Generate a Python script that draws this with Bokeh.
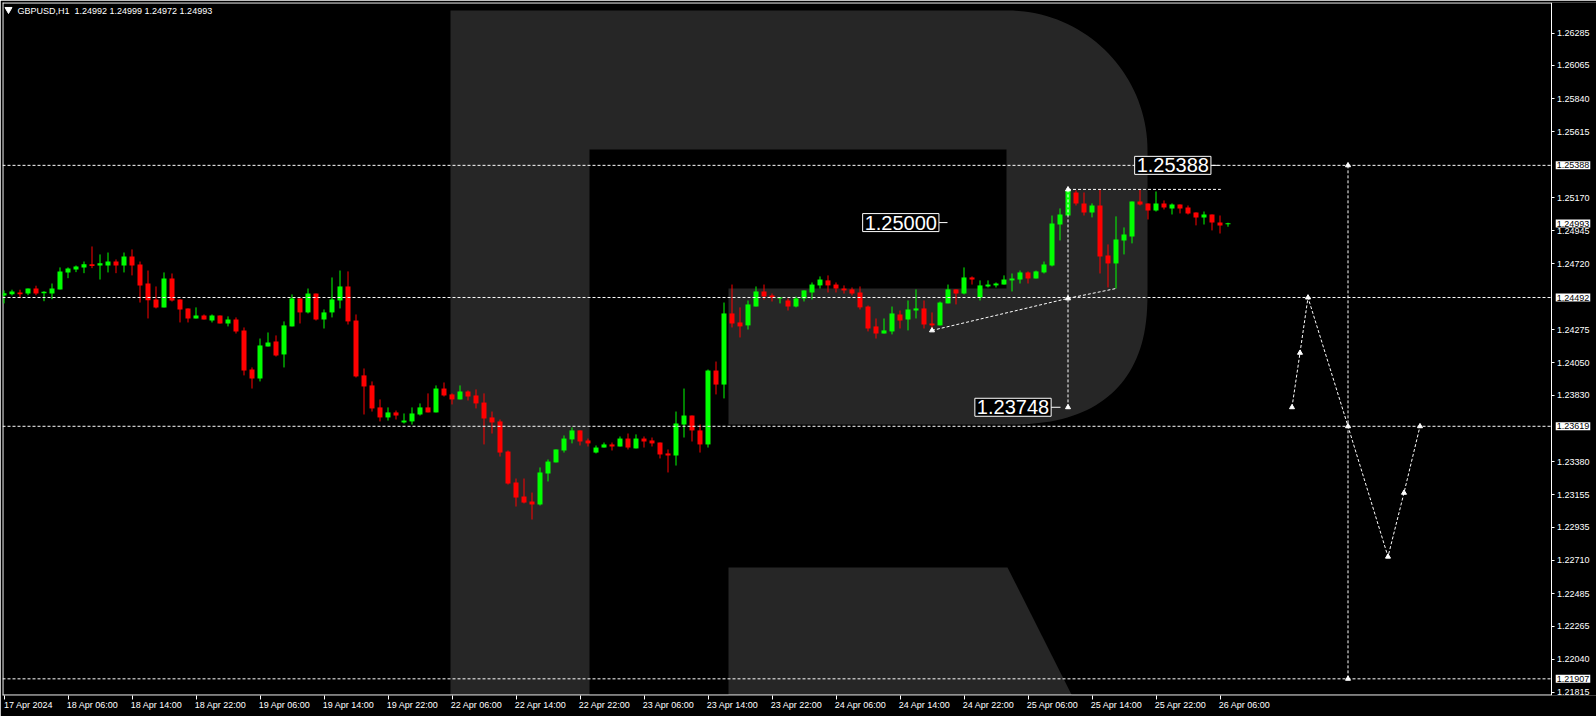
import numpy as np
from bokeh.plotting import figure
from bokeh.models import Range1d, FixedTicker, Label, PrintfTickFormatter, ColumnDataSource
from bokeh.embed import file_html
from bokeh.resources import INLINE

# ---------------- data ----------------
symbol_title = "GBPUSD,H1"
last_ohlc = [1.24992, 1.24999, 1.24972, 1.24993]

opens = [1.24506, 1.24515, 1.24526, 1.24519, 1.24553, 1.24521, 1.24519, 1.24547, 1.24662, 1.24682,
         1.24696, 1.24718, 1.24709, 1.24709, 1.24736, 1.24709, 1.24770, 1.24716, 1.24587, 1.24479,
         1.24425, 1.24621, 1.24479, 1.24418, 1.24350, 1.24370, 1.24336, 1.24370, 1.24316, 1.24343,
         1.24269, 1.24004, 1.23943, 1.24160, 1.24194, 1.24106, 1.24296, 1.24486, 1.24391, 1.24519,
         1.24343, 1.24391, 1.24472, 1.24567, 1.24336, 1.23964, 1.23896, 1.23747, 1.23679, 1.23713,
         1.23645, 1.23652, 1.23699, 1.23747, 1.23713, 1.23875, 1.23835, 1.23801, 1.23855, 1.23828,
         1.23780, 1.23679, 1.23652, 1.23448, 1.23238, 1.23143, 1.23109, 1.23089, 1.23299, 1.23374,
         1.23455, 1.23530, 1.23591, 1.23523, 1.23441, 1.23475, 1.23496, 1.23482, 1.23536, 1.23469,
         1.23536, 1.23523, 1.23509, 1.23435, 1.23421, 1.23631, 1.23692, 1.23591, 1.23496, 1.23997,
         1.23902, 1.24384, 1.24323, 1.24303, 1.24431, 1.24533, 1.24506, 1.24486, 1.24472, 1.24431,
         1.24486, 1.24526, 1.24574, 1.24608, 1.24580, 1.24553, 1.24547, 1.24526, 1.24431, 1.24296,
         1.24248, 1.24262, 1.24377, 1.24343, 1.24404, 1.24418, 1.24316, 1.24303, 1.24452, 1.24547,
         1.24519, 1.24628, 1.24492, 1.24567, 1.24574, 1.24580, 1.24608, 1.24614, 1.24662, 1.24621,
         1.24662, 1.24709, 1.24987, 1.25048, 1.25204, 1.25130, 1.25069, 1.25116, 1.24777, 1.24723,
         1.24879, 1.24906, 1.25143, 1.25130, 1.25082, 1.25130, 1.25096, 1.25123, 1.25103, 1.25069,
         1.25035, 1.25055, 1.25001, 1.24992]

highs = [1.24540, 1.24545, 1.24545, 1.24553, 1.24572, 1.24535, 1.24587, 1.24696, 1.24696, 1.24709,
         1.24736, 1.24838, 1.24784, 1.24797, 1.24750, 1.24797, 1.24818, 1.24736, 1.24675, 1.24567,
         1.24662, 1.24655, 1.24479, 1.24418, 1.24425, 1.24377, 1.24377, 1.24370, 1.24364, 1.24357,
         1.24289, 1.24018, 1.24214, 1.24255, 1.24235, 1.24330, 1.24513, 1.24486, 1.24553, 1.24519,
         1.24411, 1.24628, 1.24675, 1.24669, 1.24377, 1.24011, 1.23923, 1.23801, 1.23747, 1.23726,
         1.23706, 1.23747, 1.23774, 1.23842, 1.23896, 1.23916, 1.23842, 1.23896, 1.23862, 1.23869,
         1.23842, 1.23719, 1.23665, 1.23455, 1.23265, 1.23265, 1.23170, 1.23340, 1.23394, 1.23462,
         1.23557, 1.23611, 1.23591, 1.23536, 1.23489, 1.23509, 1.23509, 1.23550, 1.23570, 1.23564,
         1.23550, 1.23543, 1.23509, 1.23462, 1.23719, 1.23875, 1.23692, 1.23631, 1.24004, 1.24058,
         1.24458, 1.24580, 1.24425, 1.24472, 1.24567, 1.24580, 1.24519, 1.24492, 1.24486, 1.24499,
         1.24540, 1.24594, 1.24635, 1.24642, 1.24594, 1.24574, 1.24560, 1.24567, 1.24438, 1.24350,
         1.24350, 1.24431, 1.24404, 1.24472, 1.24547, 1.24472, 1.24391, 1.24465, 1.24580, 1.24547,
         1.24696, 1.24635, 1.24608, 1.24608, 1.24594, 1.24642, 1.24655, 1.24675, 1.24669, 1.24675,
         1.24736, 1.25048, 1.25096, 1.25225, 1.25218, 1.25204, 1.25130, 1.25228, 1.24852, 1.25042,
         1.24967, 1.25143, 1.25225, 1.25130, 1.25211, 1.25150, 1.25130, 1.25123, 1.25116, 1.25069,
         1.25075, 1.25055, 1.25048, 1.24999]

lows = [1.24452, 1.24506, 1.24488, 1.24508, 1.24508, 1.24467, 1.24481, 1.24547, 1.24623, 1.24664,
        1.24657, 1.24691, 1.24614, 1.24662, 1.24657, 1.24662, 1.24642, 1.24458, 1.24350, 1.24418,
        1.24425, 1.24465, 1.24323, 1.24323, 1.24350, 1.24343, 1.24323, 1.24316, 1.24296, 1.24248,
        1.23964, 1.23875, 1.23923, 1.24160, 1.24092, 1.24018, 1.24296, 1.24316, 1.24384, 1.24336,
        1.24282, 1.24357, 1.24418, 1.24309, 1.23950, 1.23699, 1.23719, 1.23652, 1.23658, 1.23665,
        1.23638, 1.23631, 1.23692, 1.23713, 1.23713, 1.23821, 1.23767, 1.23801, 1.23794, 1.23740,
        1.23496, 1.23570, 1.23414, 1.23224, 1.23075, 1.23096, 1.22987, 1.23082, 1.23245, 1.23374,
        1.23441, 1.23503, 1.23489, 1.23482, 1.23435, 1.23475, 1.23455, 1.23482, 1.23462, 1.23469,
        1.23475, 1.23482, 1.23401, 1.23306, 1.23353, 1.23543, 1.23516, 1.23441, 1.23475, 1.23835,
        1.23808, 1.24289, 1.24221, 1.24275, 1.24431, 1.24479, 1.24465, 1.24452, 1.24404, 1.24425,
        1.24465, 1.24479, 1.24553, 1.24526, 1.24526, 1.24519, 1.24506, 1.24411, 1.24262, 1.24214,
        1.24248, 1.24242, 1.24282, 1.24269, 1.24350, 1.24282, 1.24269, 1.24303, 1.24452, 1.24445,
        1.24513, 1.24580, 1.24472, 1.24560, 1.24560, 1.24580, 1.24533, 1.24587, 1.24587, 1.24621,
        1.24655, 1.24703, 1.24879, 1.25048, 1.25116, 1.25048, 1.25035, 1.24655, 1.24560, 1.24553,
        1.24784, 1.24859, 1.25116, 1.25021, 1.25075, 1.25089, 1.25055, 1.25062, 1.25055, 1.24981,
        1.24987, 1.24947, 1.24926, 1.24972]

closes = [1.24521, 1.24533, 1.24515, 1.24553, 1.24519, 1.24531, 1.24553, 1.24669, 1.24689, 1.24703,
          1.24718, 1.24705, 1.24725, 1.24736, 1.24709, 1.24770, 1.24709, 1.24574, 1.24474, 1.24425,
          1.24621, 1.24472, 1.24411, 1.24350, 1.24370, 1.24343, 1.24370, 1.24316, 1.24343, 1.24262,
          1.23997, 1.23943, 1.24167, 1.24187, 1.24099, 1.24303, 1.24486, 1.24391, 1.24519, 1.24343,
          1.24391, 1.24479, 1.24567, 1.24330, 1.23957, 1.23889, 1.23740, 1.23679, 1.23713, 1.23692,
          1.23658, 1.23706, 1.23747, 1.23713, 1.23875, 1.23828, 1.23801, 1.23855, 1.23821, 1.23774,
          1.23672, 1.23645, 1.23441, 1.23231, 1.23136, 1.23102, 1.23089, 1.23306, 1.23380, 1.23462,
          1.23536, 1.23591, 1.23516, 1.23503, 1.23475, 1.23496, 1.23482, 1.23536, 1.23475, 1.23536,
          1.23516, 1.23503, 1.23428, 1.23421, 1.23638, 1.23692, 1.23591, 1.23496, 1.23997, 1.23902,
          1.24384, 1.24316, 1.24296, 1.24445, 1.24533, 1.24499, 1.24492, 1.24492, 1.24431, 1.24486,
          1.24540, 1.24580, 1.24614, 1.24574, 1.24553, 1.24540, 1.24519, 1.24425, 1.24282, 1.24248,
          1.24269, 1.24384, 1.24336, 1.24411, 1.24418, 1.24309, 1.24303, 1.24458, 1.24547, 1.24519,
          1.24628, 1.24614, 1.24574, 1.24580, 1.24587, 1.24614, 1.24621, 1.24662, 1.24621, 1.24669,
          1.24716, 1.24994, 1.25055, 1.25218, 1.25130, 1.25069, 1.25116, 1.24770, 1.24723, 1.24886,
          1.24920, 1.25143, 1.25123, 1.25082, 1.25130, 1.25103, 1.25123, 1.25096, 1.25062, 1.25035,
          1.25055, 1.25001, 1.24981, 1.24993]

time_labels = ["17 Apr 2024", "18 Apr 06:00", "18 Apr 14:00", "18 Apr 22:00", "19 Apr 06:00",
               "19 Apr 14:00", "19 Apr 22:00", "22 Apr 06:00", "22 Apr 14:00", "22 Apr 22:00",
               "23 Apr 06:00", "23 Apr 14:00", "23 Apr 22:00", "24 Apr 06:00", "24 Apr 14:00",
               "24 Apr 22:00", "25 Apr 06:00", "25 Apr 14:00", "25 Apr 22:00", "26 Apr 06:00"]
tick_bars = [0, 8, 16, 24, 32, 40, 48, 56, 64, 72, 80, 88, 96, 104, 112, 120, 128, 136, 144, 152]

price_ticks = [1.26285, 1.26065, 1.25840, 1.25615, 1.25170, 1.24945, 1.24720, 1.24275, 1.24050,
               1.23830, 1.23380, 1.23155, 1.22935, 1.22710, 1.22485, 1.22265, 1.22040, 1.21815]
level_prices = [1.25388, 1.24492, 1.23619, 1.21907]
current_price = 1.24993

trend_bars = [116, 133, 139]
trend_prices = [1.24269, 1.24486, 1.24553]
peak_bars = [133, 152.1]
peak_price = 1.25225
drop_target = 1.23748
round_level = 1.25000
forecast_bars = [161, 162, 163, 168, 173, 175, 177]
forecast_prices = [1.23748, 1.24117, 1.24492, 1.23619, 1.22735, 1.23168, 1.23619]
target_bar = 168
target_top = 1.25388
target_bottom = 1.21907

# ---------------- geometry (reference pixels) ----------------
W, H = 1596, 716
FL, FT, FR, FB = 2, 2, 1596, 695      # plotting frame
AXIS_PX = 1550.5                      # price scale line
BAR_PX = 8.0
BAR0_PX = 3.5
X0 = (FL - BAR0_PX) / BAR_PX
X1 = (FR - BAR0_PX) / BAR_PX
Y_TOP = 1.26492
Y_BOT = 1.21794


def bx(px):
    return X0 + (px - FL) / (FR - FL) * (X1 - X0)


def py(y):
    return Y_TOP - (y - FT) / (FB - FT) * (Y_TOP - Y_BOT)


p = figure(width=W, height=H, x_range=Range1d(X0, X1), y_range=Range1d(Y_BOT, Y_TOP),
           y_axis_location="right", output_backend="svg", toolbar_location=None,
           background_fill_color="black", border_fill_color="black",
           min_border_left=FL, min_border_top=FT, min_border_right=0,
           min_border_bottom=H - FB)
p.outline_line_color = None
p.grid.visible = False

# ---------------- watermark "R" ----------------
def arc(cx, cy, rx, ry, a0, a1, pw=2.0, n=40):
    t = np.linspace(a0, a1, n)
    c, s = np.cos(t), np.sin(t)
    xs = cx + rx * np.sign(c) * np.abs(c) ** (2.0 / pw)
    ys = cy + ry * np.sign(s) * np.abs(s) ** (2.0 / pw)
    return list(xs), list(ys)

ax1, ay1 = arc(1007, 150, 140, 140, -np.pi / 2, 0)
ax2, ay2 = arc(1005, 290, 142, 134, 0, np.pi / 2, pw=2.5)
rx_px = [450, 1007] + ax1 + [1147] + ax2 + [728, 728, 1006, 1006, 589, 589, 450]
ry_px = [10, 10] + ay1 + [290] + ay2 + [424, 288, 288, 149, 149, 700, 700]
p.patch([bx(v) for v in rx_px], [py(v) for v in ry_px], fill_color="#262626", line_color=None)
leg_x = [728, 1007, 1074, 728]
leg_y = [567, 567, 700, 700]
p.patch([bx(v) for v in leg_x], [py(v) for v in leg_y], fill_color="#262626", line_color=None)

# ---------------- frame lines (stop at the price scale) ----------------
p.segment(x0=[bx(2.5), X0, X0], y0=[Y_BOT, py(2.5), py(694.5)],
          x1=[bx(2.5), bx(AXIS_PX), bx(AXIS_PX)], y1=[Y_TOP, py(2.5), py(694.5)],
          line_color="white", line_width=1)

# ---------------- candles ----------------
o = np.array(opens)
c = np.array(closes)
idx = np.arange(len(opens))
up = c >= o
colors = np.where(up, "#00ff00", "#ff0000")
mid = (o + c) / 2
half = np.maximum(np.abs(c - o), 0.00007) / 2
src = ColumnDataSource(dict(x=idx, high=highs, low=lows, top=mid + half, bottom=mid - half,
                            color=colors))
p.segment(x0="x", y0="high", x1="x", y1="low", line_color="color", line_width=1, source=src)
p.vbar(x="x", width=5 / BAR_PX, top="top", bottom="bottom", fill_color="color",
       line_color=None, source=src)

# ---------------- levels and drawings ----------------
dash = "3 2"
p.segment(x0=[X0] * len(level_prices), y0=level_prices,
          x1=[bx(AXIS_PX)] * len(level_prices), y1=level_prices,
          line_color="white", line_dash=dash, line_width=1)

p.line(trend_bars, trend_prices, line_color="white", line_dash=dash, line_width=1)
p.line(peak_bars, [peak_price, peak_price], line_color="white", line_dash=dash, line_width=1)
p.line([trend_bars[1], trend_bars[1]], [peak_price, drop_target], line_color="white",
       line_dash=dash, line_width=1)
p.line(forecast_bars, forecast_prices, line_color="white", line_dash=dash, line_width=1)
p.line([target_bar, target_bar], [target_top, target_bottom], line_color="white",
       line_dash=dash, line_width=1)

mk_x = [trend_bars[0], trend_bars[1], trend_bars[1], trend_bars[1], target_bar, target_bar] + forecast_bars
mk_y = [trend_prices[0], peak_price, trend_prices[1], drop_target, target_top, target_bottom] + forecast_prices
p.scatter(mk_x, mk_y, marker="triangle", size=5, fill_color="white", line_color="white")

# connectors for price labels
p.segment(x0=[bx(938), bx(1049), bx(1209)], y0=[round_level, drop_target, target_top],
          x1=[bx(947), bx(1060), bx(1218)], y1=[round_level, drop_target, target_top],
          line_color="white", line_width=1)

big_font = "Liberation Sans"
for xc, lv in [(900.3, round_level), (1012.5, drop_target), (1172.3, target_top)]:
    p.add_layout(Label(x=bx(xc), y=lv, text=f"{lv:.5f}", text_align="center",
                       text_baseline="middle", text_color="white", text_font=big_font,
                       text_font_size="20px", background_fill_color="black",
                       border_line_color="white", border_line_width=1, padding=2))

# ---------------- title ----------------
p.scatter([bx(8)], [py(9)], marker="inverted_triangle", size=7, fill_color="white",
          line_color="white")
title_text = symbol_title + "\u00a0 " + " ".join(f"{v:.5f}" for v in last_ohlc)
p.add_layout(Label(x=bx(17), y=py(10), text=title_text, text_align="left",
                   text_baseline="middle", text_color="white", text_font="Liberation Sans",
                   text_font_size="9px"))

# ---------------- axes ----------------
small_font = "Liberation Sans"
yax = p.yaxis[0]
yax.fixed_location = bx(AXIS_PX)
yax.ticker = FixedTicker(ticks=price_ticks)
yax.formatter = PrintfTickFormatter(format="%.5f")
yax.axis_line_color = "white"
yax.major_tick_line_color = "white"
yax.major_tick_out = 3
yax.major_tick_in = 0
yax.minor_tick_line_color = None
yax.major_label_text_color = "white"
yax.major_label_text_font = small_font
yax.major_label_text_font_size = "9px"
yax.major_label_standoff = 3

SHIFT = 24.5 / BAR_PX
label_pos = [b + SHIFT for b in tick_bars]
xax = p.xaxis[0]
xax.ticker = FixedTicker(ticks=label_pos, minor_ticks=tick_bars)
xax.major_label_overrides = {lp: lab for lp, lab in zip(label_pos, time_labels)}
xax.axis_line_color = None
xax.major_tick_line_color = None
xax.major_tick_out = 0
xax.major_tick_in = 0
xax.minor_tick_line_color = "white"
xax.minor_tick_out = 4
xax.minor_tick_in = 0
xax.major_label_text_color = "white"
xax.major_label_text_font = small_font
xax.major_label_text_font_size = "9px"
xax.major_label_standoff = 0

# boxed prices on the price scale
for lv in [target_top, current_price, level_prices[1], level_prices[2], level_prices[3]]:
    p.add_layout(Label(x=bx(1572.5), y=lv, text=f"{lv:.5f}", text_align="center",
                       text_baseline="middle", text_color="black", text_font=small_font,
                       text_font_size="9px", background_fill_color="white", padding=1))

open("out.html", "w").write(file_html(p, INLINE))
